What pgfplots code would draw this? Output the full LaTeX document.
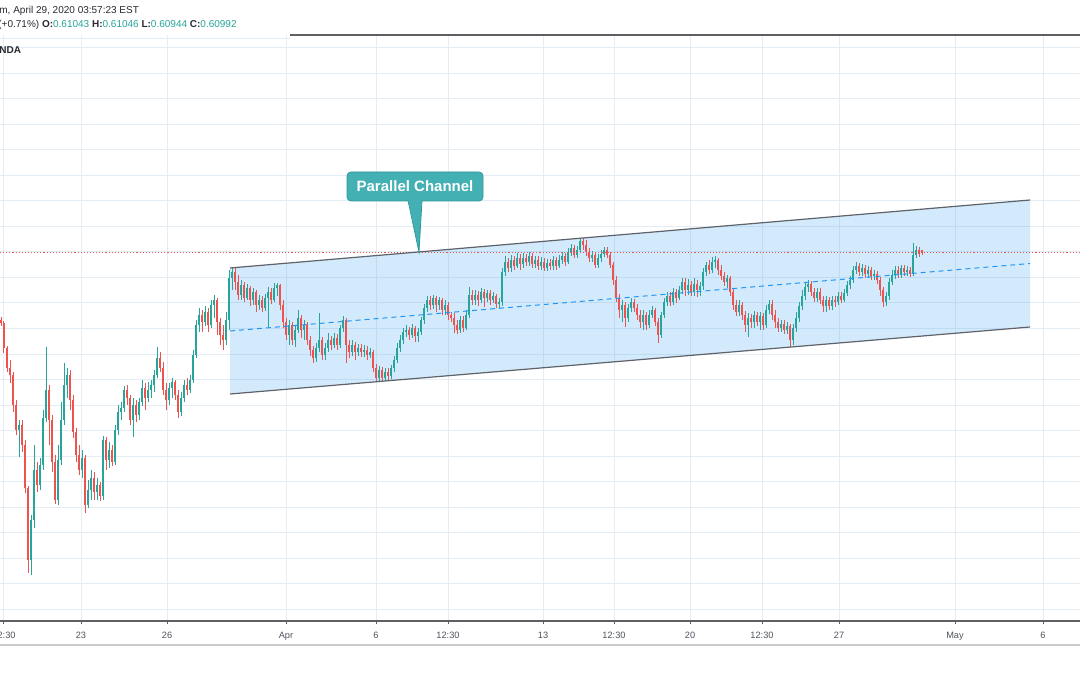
\documentclass[border=0pt]{standalone}
\usepackage{pgfplots}
\pgfplotsset{compat=1.18}
\usepackage{pgfplotstable}
\usepackage{fontspec}
\setmainfont{Liberation Sans}
\definecolor{upc}{RGB}{38,166,154}
\definecolor{dnc}{RGB}{239,83,80}
\definecolor{gridc}{RGB}{229,237,244}
\definecolor{chanblue}{RGB}{33,150,243}
\definecolor{chanline}{RGB}{95,98,105}
\definecolor{callf}{RGB}{67,176,179}
\definecolor{callb}{RGB}{45,152,156}
\definecolor{axisc}{RGB}{95,95,100}
\definecolor{tickc}{RGB}{80,83,94}
\definecolor{hdrc}{RGB}{40,42,50}
\definecolor{sepc}{RGB}{200,202,206}

\pgfplotstableread{
x o h l c
1 0.5964 0.5970 0.5952 0.5958
4 0.5958 0.5962 0.5898 0.5908
7 0.5908 0.5912 0.5860 0.5868
10 0.5868 0.5884 0.5838 0.5854
13 0.5854 0.5860 0.5780 0.5794
16 0.5794 0.5804 0.5734 0.5744
19 0.5744 0.5764 0.5690 0.5754
22 0.5754 0.5764 0.5700 0.5714
25 0.5714 0.5724 0.5618 0.5628
28 0.5628 0.5632 0.5458 0.5484
31 0.5484 0.5574 0.5454 0.5564
34 0.5564 0.5714 0.5548 0.5664
37 0.5664 0.5680 0.5620 0.5634
40 0.5634 0.5688 0.5624 0.5674
43 0.5674 0.5784 0.5664 0.5768
46 0.5768 0.5910 0.5760 0.5824
49 0.5824 0.5834 0.5714 0.5764
52 0.5764 0.5774 0.5660 0.5680
55 0.5680 0.5694 0.5596 0.5604
58 0.5604 0.5714 0.5594 0.5684
61 0.5684 0.5800 0.5674 0.5764
64 0.5764 0.5878 0.5754 0.5834
67 0.5834 0.5868 0.5808 0.5854
70 0.5854 0.5864 0.5784 0.5804
73 0.5804 0.5814 0.5728 0.5740
76 0.5740 0.5748 0.5680 0.5694
79 0.5694 0.5714 0.5654 0.5664
82 0.5664 0.5704 0.5648 0.5688
85 0.5688 0.5694 0.5578 0.5594
88 0.5594 0.5644 0.5588 0.5624
91 0.5624 0.5664 0.5604 0.5648
94 0.5648 0.5660 0.5604 0.5620
97 0.5620 0.5648 0.5604 0.5634
100 0.5634 0.5640 0.5602 0.5612
103 0.5612 0.5732 0.5604 0.5724
106 0.5724 0.5730 0.5664 0.5684
109 0.5684 0.5720 0.5668 0.5704
112 0.5704 0.5714 0.5672 0.5680
115 0.5680 0.5754 0.5674 0.5744
118 0.5744 0.5794 0.5734 0.5780
121 0.5780 0.5800 0.5764 0.5788
124 0.5788 0.5832 0.5780 0.5824
127 0.5824 0.5834 0.5794 0.5808
130 0.5808 0.5814 0.5754 0.5764
133 0.5764 0.5808 0.5730 0.5794
136 0.5794 0.5804 0.5760 0.5774
139 0.5774 0.5808 0.5764 0.5800
142 0.5800 0.5844 0.5792 0.5828
145 0.5828 0.5838 0.5784 0.5808
148 0.5808 0.5840 0.5800 0.5824
151 0.5824 0.5844 0.5808 0.5834
154 0.5834 0.5864 0.5820 0.5854
157 0.5854 0.5910 0.5848 0.5888
160 0.5888 0.5900 0.5860 0.5868
163 0.5868 0.5880 0.5814 0.5824
166 0.5824 0.5838 0.5784 0.5804
169 0.5804 0.5838 0.5794 0.5828
172 0.5828 0.5848 0.5808 0.5840
175 0.5840 0.5844 0.5804 0.5814
178 0.5814 0.5824 0.5768 0.5780
181 0.5780 0.5820 0.5772 0.5808
184 0.5808 0.5844 0.5800 0.5834
187 0.5834 0.5848 0.5814 0.5824
190 0.5824 0.5854 0.5818 0.5844
193 0.5844 0.5904 0.5838 0.5894
196 0.5894 0.5964 0.5888 0.5954
199 0.5954 0.5988 0.5940 0.5974
202 0.5974 0.5984 0.5940 0.5960
205 0.5960 0.5992 0.5952 0.5980
208 0.5980 0.5988 0.5940 0.5954
211 0.5954 0.6004 0.5948 0.5994
214 0.5994 0.6014 0.5968 0.6004
217 0.6004 0.6008 0.5934 0.5960
220 0.5960 0.5968 0.5914 0.5934
223 0.5934 0.5954 0.5904 0.5924
226 0.5924 0.5980 0.5914 0.5964
229 0.5964 0.6064 0.5944 0.6048
232 0.6048 0.6068 0.6024 0.6060
235 0.6060 0.6068 0.6024 0.6040
238 0.6040 0.6054 0.6004 0.6014
241 0.6014 0.6044 0.6004 0.6034
244 0.6034 0.6040 0.6000 0.6008
247 0.6008 0.6036 0.6004 0.6028
250 0.6028 0.6032 0.5992 0.6004
253 0.6004 0.6028 0.5994 0.6020
256 0.6020 0.6024 0.5980 0.5994
259 0.5994 0.6014 0.5984 0.6004
262 0.6004 0.6012 0.5980 0.5988
265 0.5988 0.6016 0.5982 0.6008
268 0.6008 0.6030 0.5950 0.6020
271 0.6020 0.6028 0.5996 0.6004
274 0.6004 0.6038 0.6000 0.6028
277 0.6028 0.6038 0.6012 0.6034
280 0.6034 0.6036 0.5984 0.5994
283 0.5994 0.6004 0.5948 0.5960
286 0.5960 0.5968 0.5924 0.5934
289 0.5934 0.5964 0.5914 0.5954
292 0.5954 0.5960 0.5914 0.5924
295 0.5924 0.5954 0.5910 0.5944
298 0.5944 0.5984 0.5938 0.5968
301 0.5968 0.5974 0.5928 0.5944
304 0.5944 0.5964 0.5924 0.5954
307 0.5954 0.5960 0.5914 0.5924
310 0.5924 0.5932 0.5892 0.5904
313 0.5904 0.5912 0.5878 0.5888
316 0.5888 0.5918 0.5880 0.5908
319 0.5908 0.5978 0.5900 0.5924
322 0.5924 0.5930 0.5884 0.5894
325 0.5894 0.5918 0.5884 0.5908
328 0.5908 0.5938 0.5900 0.5924
331 0.5924 0.5932 0.5904 0.5914
334 0.5914 0.5938 0.5908 0.5928
337 0.5928 0.5936 0.5904 0.5914
340 0.5914 0.5954 0.5908 0.5948
343 0.5948 0.5972 0.5940 0.5964
346 0.5964 0.5968 0.5878 0.5914
349 0.5914 0.5924 0.5888 0.5900
352 0.5900 0.5924 0.5892 0.5914
355 0.5914 0.5920 0.5884 0.5900
358 0.5900 0.5916 0.5892 0.5908
361 0.5908 0.5916 0.5890 0.5900
364 0.5900 0.5914 0.5890 0.5904
367 0.5904 0.5912 0.5884 0.5894
370 0.5894 0.5908 0.5888 0.5900
373 0.5900 0.5904 0.5860 0.5868
376 0.5868 0.5876 0.5840 0.5848
379 0.5848 0.5872 0.5840 0.5864
382 0.5864 0.5870 0.5840 0.5848
385 0.5848 0.5868 0.5842 0.5860
388 0.5860 0.5868 0.5844 0.5852
391 0.5852 0.5874 0.5846 0.5868
394 0.5868 0.5892 0.5860 0.5884
397 0.5884 0.5918 0.5878 0.5908
400 0.5908 0.5934 0.5900 0.5924
403 0.5924 0.5948 0.5916 0.5940
406 0.5940 0.5954 0.5930 0.5944
409 0.5944 0.5950 0.5924 0.5934
412 0.5934 0.5956 0.5928 0.5948
415 0.5948 0.5952 0.5920 0.5932
418 0.5932 0.5948 0.5920 0.5940
421 0.5940 0.5970 0.5934 0.5964
424 0.5964 0.5996 0.5956 0.5988
427 0.5988 0.6012 0.5980 0.6004
430 0.6004 0.6012 0.5984 0.5994
433 0.5994 0.6014 0.5986 0.6008
436 0.6008 0.6012 0.5980 0.5994
439 0.5994 0.6010 0.5984 0.6004
442 0.6004 0.6008 0.5974 0.5984
445 0.5984 0.6004 0.5974 0.5994
448 0.5994 0.6000 0.5964 0.5974
451 0.5974 0.5980 0.5960 0.5968
454 0.5968 0.5978 0.5938 0.5954
457 0.5954 0.5964 0.5936 0.5944
460 0.5944 0.5972 0.5938 0.5964
463 0.5964 0.5972 0.5940 0.5948
466 0.5948 0.5984 0.5944 0.5974
469 0.5974 0.6030 0.5968 0.6014
472 0.6014 0.6024 0.5994 0.6004
475 0.6004 0.6024 0.5994 0.6014
478 0.6014 0.6022 0.5992 0.6004
481 0.6004 0.6028 0.5998 0.6020
484 0.6020 0.6026 0.5990 0.6008
487 0.6008 0.6024 0.6000 0.6018
490 0.6018 0.6024 0.5994 0.6004
493 0.6004 0.6020 0.5998 0.6012
496 0.6012 0.6016 0.5988 0.5996
499 0.5996 0.6008 0.5988 0.6000
502 0.6000 0.6068 0.5992 0.6060
505 0.6060 0.6092 0.6052 0.6080
508 0.6080 0.6088 0.6060 0.6068
511 0.6068 0.6094 0.6060 0.6084
514 0.6084 0.6092 0.6064 0.6072
517 0.6072 0.6098 0.6068 0.6088
520 0.6088 0.6096 0.6064 0.6076
523 0.6076 0.6098 0.6068 0.6088
526 0.6088 0.6096 0.6072 0.6080
529 0.6080 0.6100 0.6072 0.6092
532 0.6092 0.6098 0.6068 0.6076
535 0.6076 0.6092 0.6068 0.6084
538 0.6084 0.6092 0.6064 0.6072
541 0.6072 0.6090 0.6064 0.6080
544 0.6080 0.6088 0.6062 0.6068
547 0.6068 0.6086 0.6062 0.6078
550 0.6078 0.6086 0.6064 0.6072
553 0.6072 0.6092 0.6064 0.6084
556 0.6084 0.6090 0.6064 0.6072
559 0.6072 0.6094 0.6068 0.6084
562 0.6084 0.6100 0.6076 0.6092
565 0.6092 0.6098 0.6072 0.6080
568 0.6080 0.6108 0.6076 0.6100
571 0.6100 0.6116 0.6092 0.6108
574 0.6108 0.6114 0.6088 0.6094
577 0.6094 0.6112 0.6088 0.6104
580 0.6104 0.6128 0.6098 0.6122
583 0.6122 0.6128 0.6104 0.6114
586 0.6114 0.6124 0.6092 0.6100
589 0.6100 0.6108 0.6080 0.6088
592 0.6088 0.6102 0.6080 0.6094
595 0.6094 0.6100 0.6068 0.6074
598 0.6074 0.6096 0.6068 0.6088
601 0.6088 0.6104 0.6080 0.6096
604 0.6096 0.6110 0.6090 0.6104
607 0.6104 0.6110 0.6088 0.6094
610 0.6094 0.6100 0.6068 0.6074
613 0.6074 0.6080 0.6034 0.6044
616 0.6044 0.6052 0.6000 0.6008
619 0.6008 0.6016 0.5968 0.5984
622 0.5984 0.6004 0.5960 0.5994
625 0.5994 0.6000 0.5950 0.5968
628 0.5968 0.5996 0.5960 0.5988
631 0.5988 0.6008 0.5980 0.6000
634 0.6000 0.6006 0.5980 0.5988
637 0.5988 0.5996 0.5964 0.5974
640 0.5974 0.5984 0.5948 0.5960
643 0.5960 0.5984 0.5944 0.5974
646 0.5974 0.5980 0.5944 0.5954
649 0.5954 0.5984 0.5948 0.5974
652 0.5974 0.5992 0.5968 0.5984
655 0.5984 0.5988 0.5952 0.5960
658 0.5960 0.5968 0.5918 0.5934
661 0.5934 0.5980 0.5928 0.5974
664 0.5974 0.6008 0.5968 0.6000
667 0.6000 0.6020 0.5992 0.6012
670 0.6012 0.6020 0.5992 0.6000
673 0.6000 0.6028 0.5994 0.6020
676 0.6020 0.6026 0.5998 0.6008
679 0.6008 0.6032 0.6004 0.6024
682 0.6024 0.6048 0.6016 0.6040
685 0.6040 0.6048 0.6012 0.6024
688 0.6024 0.6046 0.6014 0.6034
691 0.6034 0.6042 0.6012 0.6020
694 0.6020 0.6048 0.6012 0.6036
697 0.6036 0.6044 0.6010 0.6024
700 0.6024 0.6040 0.6012 0.6032
703 0.6032 0.6068 0.6024 0.6060
706 0.6060 0.6080 0.6052 0.6074
709 0.6074 0.6084 0.6056 0.6064
712 0.6064 0.6090 0.6058 0.6080
715 0.6080 0.6092 0.6068 0.6084
718 0.6084 0.6088 0.6054 0.6064
721 0.6064 0.6074 0.6044 0.6052
724 0.6052 0.6060 0.6032 0.6040
727 0.6040 0.6054 0.6028 0.6048
730 0.6048 0.6052 0.6012 0.6020
733 0.6020 0.6028 0.5984 0.5994
736 0.5994 0.6004 0.5972 0.5980
739 0.5980 0.6004 0.5972 0.5994
742 0.5994 0.6000 0.5964 0.5974
745 0.5974 0.5982 0.5940 0.5954
748 0.5954 0.5978 0.5930 0.5968
751 0.5968 0.5976 0.5948 0.5960
754 0.5960 0.5982 0.5948 0.5974
757 0.5974 0.5980 0.5952 0.5960
760 0.5960 0.5980 0.5944 0.5972
763 0.5972 0.5978 0.5944 0.5954
766 0.5954 0.5994 0.5948 0.5984
769 0.5984 0.6004 0.5976 0.5996
772 0.5996 0.6004 0.5964 0.5974
775 0.5974 0.5984 0.5948 0.5960
778 0.5960 0.5968 0.5940 0.5948
781 0.5948 0.5964 0.5940 0.5956
784 0.5956 0.5964 0.5936 0.5944
787 0.5944 0.5960 0.5936 0.5952
790 0.5952 0.5956 0.5910 0.5924
793 0.5924 0.5956 0.5914 0.5948
796 0.5948 0.5980 0.5940 0.5968
799 0.5968 0.6000 0.5960 0.5992
802 0.5992 0.6024 0.5984 0.6012
805 0.6012 0.6040 0.6004 0.6030
808 0.6030 0.6044 0.6020 0.6036
811 0.6036 0.6042 0.6012 0.6020
814 0.6020 0.6028 0.6000 0.6008
817 0.6008 0.6028 0.6000 0.6020
820 0.6020 0.6028 0.5996 0.6004
823 0.6004 0.6012 0.5980 0.5992
826 0.5992 0.6012 0.5980 0.6004
829 0.6004 0.6010 0.5984 0.5992
832 0.5992 0.6012 0.5984 0.6004
835 0.6004 0.6012 0.5990 0.6000
838 0.6000 0.6020 0.5994 0.6012
841 0.6012 0.6020 0.5998 0.6004
844 0.6004 0.6026 0.6000 0.6018
847 0.6018 0.6042 0.6012 0.6034
850 0.6034 0.6052 0.6026 0.6044
853 0.6044 0.6072 0.6038 0.6064
856 0.6064 0.6080 0.6056 0.6072
859 0.6072 0.6078 0.6052 0.6060
862 0.6060 0.6076 0.6052 0.6068
865 0.6068 0.6074 0.6048 0.6056
868 0.6056 0.6072 0.6048 0.6064
871 0.6064 0.6070 0.6044 0.6052
874 0.6052 0.6064 0.6044 0.6056
877 0.6056 0.6062 0.6036 0.6044
880 0.6044 0.6050 0.6012 0.6024
883 0.6024 0.6030 0.5990 0.6000
886 0.6000 0.6020 0.5992 0.6012
889 0.6012 0.6048 0.6004 0.6040
892 0.6040 0.6064 0.6034 0.6054
895 0.6054 0.6072 0.6046 0.6064
898 0.6064 0.6072 0.6048 0.6054
901 0.6054 0.6074 0.6048 0.6068
904 0.6068 0.6074 0.6052 0.6060
907 0.6060 0.6072 0.6052 0.6064
910 0.6064 0.6070 0.6050 0.6056
913 0.6056 0.6118 0.6052 0.6094
916 0.6094 0.6112 0.6088 0.6104
919 0.6104 0.6110 0.6090 0.6096
922 0.6104 0.6105 0.6094 0.6099
}\candles

\pgfplotsset{
  candlepart/.style={forget plot, only marks, mark=*, mark size=0pt,
    mark options={draw=none, fill=none}},
}

\begin{document}
\begin{tikzpicture}
\useasboundingbox (0,0) rectangle (540pt,337.5pt);
\fill[white] (0,0) rectangle (540pt,337.5pt);
\begin{axis}[
  at={(0,27pt)}, anchor=south west,
  scale only axis, width=540pt, height=293pt,
  xmin=0, xmax=1080, ymin=0.5362, ymax=0.6534,
  axis line style={draw=none},
  clip=false,
  xtick={4,81,167,286,376,448,543,614,690,762,839,955,1043},
  xticklabels={12:30,23,26,Apr,6,12:30,13,12:30,20,12:30,27,May,6},
  xtick pos=left, tick align=outside, major tick length=1.6pt,
  xtick style={draw=axisc, line width=0.5pt},
  xticklabel style={font=\fontsize{4.6}{5}\selectfont, text=tickc, anchor=base, yshift=-7.1pt},
  ytick={0.5386,0.5437,0.5488,0.5539,0.5590,0.5641,0.5692,0.5743,0.5794,0.5845,0.5896,0.5947,0.5998,0.6049,0.6100,0.6151,0.6202,0.6253,0.6304,0.6355,0.6406,0.6457,0.6508},
  yticklabel=\empty, ytick style={draw=none},
  xmajorgrids, ymajorgrids,
  major grid style={draw=gridc, line width=0.5pt},
]
% channel fill
\addplot[forget plot, draw=none, fill=chanblue, fill opacity=0.2]
  coordinates {(230,0.6068) (1030,0.6204) (1030,0.5950) (230,0.5816)} -- cycle;
% up wicks
\addplot[candlepart,
  restrict expr to domain={\thisrow{c}-\thisrow{o}}{0:1},
  error bars/.cd, y dir=both, y explicit, error mark=none,
  error bar style={draw=upc, line width=0.5pt}]
  table[x=x, y expr={(\thisrow{h}+\thisrow{l})/2}, y error expr={(\thisrow{h}-\thisrow{l})/2}] {\candles};
% up bodies
\addplot[candlepart,
  restrict expr to domain={\thisrow{c}-\thisrow{o}}{0:1},
  error bars/.cd, y dir=both, y explicit, error mark=none,
  error bar style={draw=upc, line width=0.95pt}]
  table[x=x, y expr={(\thisrow{o}+\thisrow{c})/2}, y error expr={(\thisrow{c}-\thisrow{o})/2}] {\candles};
% down wicks
\addplot[candlepart,
  restrict expr to domain={\thisrow{o}-\thisrow{c}}{0.00001:1},
  error bars/.cd, y dir=both, y explicit, error mark=none,
  error bar style={draw=dnc, line width=0.5pt}]
  table[x=x, y expr={(\thisrow{h}+\thisrow{l})/2}, y error expr={(\thisrow{h}-\thisrow{l})/2}] {\candles};
% down bodies
\addplot[candlepart,
  restrict expr to domain={\thisrow{o}-\thisrow{c}}{0.00001:1},
  error bars/.cd, y dir=both, y explicit, error mark=none,
  error bar style={draw=dnc, line width=0.95pt}]
  table[x=x, y expr={(\thisrow{o}+\thisrow{c})/2}, y error expr={(\thisrow{o}-\thisrow{c})/2}] {\candles};
% price line
\addplot[forget plot, dnc, densely dotted, line width=0.55pt] coordinates {(0,0.6099) (1080,0.6099)};
% channel borders and midline
\addplot[forget plot, chanline, line width=0.6pt] coordinates {(230,0.6068) (1030,0.6204)};
\addplot[forget plot, chanline, line width=0.6pt] coordinates {(230,0.5816) (1030,0.5950)};
\addplot[forget plot, chanblue, line width=0.5pt, dash pattern=on 2.5pt off 2pt] coordinates {(230,0.5942) (1030,0.6077)};
% axis lines
\draw[axisc, line width=0.6pt] (axis cs:0,0.5362) -- (axis cs:1080,0.5362);
\draw[axisc, line width=0.6pt] (axis cs:290,0.6534) -- (axis cs:1080,0.6534);
\draw[gridc, line width=0.5pt] (axis cs:0,0.6526) -- (axis cs:290,0.6526);
% callout
\node[fill=callf, draw=callb, line width=0.4pt, rounded corners=2pt, minimum width=68pt, minimum height=14.5pt, inner sep=0pt, text=white, font=\bfseries\fontsize{7.5}{8}\selectfont] at (axis cs:415,0.6231) {Parallel Channel};
\fill[callf] (axis cs:408,0.6206) -- (axis cs:419,0.6100) -- (axis cs:422,0.6206) -- cycle;
\draw[callb, line width=0.4pt] (axis cs:408,0.6203) -- (axis cs:419,0.6100) -- (axis cs:422,0.6203);
\end{axis}
\draw[sepc, line width=0.7pt] (0,15pt) -- (540pt,15pt);
\node[anchor=west, inner sep=0pt, text=hdrc, font=\fontsize{5}{6}\selectfont] at (-0.5pt,332.2pt) {m, April 29, 2020 03:57:23 EST};
\node[anchor=west, inner sep=0pt, text=hdrc, font=\fontsize{5}{6}\selectfont] at (-1pt,325.2pt) {(+0.71\%) \textbf{O:}\textcolor{upc}{0.61043} \textbf{H:}\textcolor{upc}{0.61046} \textbf{L:}\textcolor{upc}{0.60944} \textbf{C:}\textcolor{upc}{0.60992}};
\node[anchor=west, inner sep=0pt, text=hdrc, font=\bfseries\fontsize{5}{6}\selectfont] at (-0.5pt,312.5pt) {NDA};
\end{tikzpicture}
\end{document}
